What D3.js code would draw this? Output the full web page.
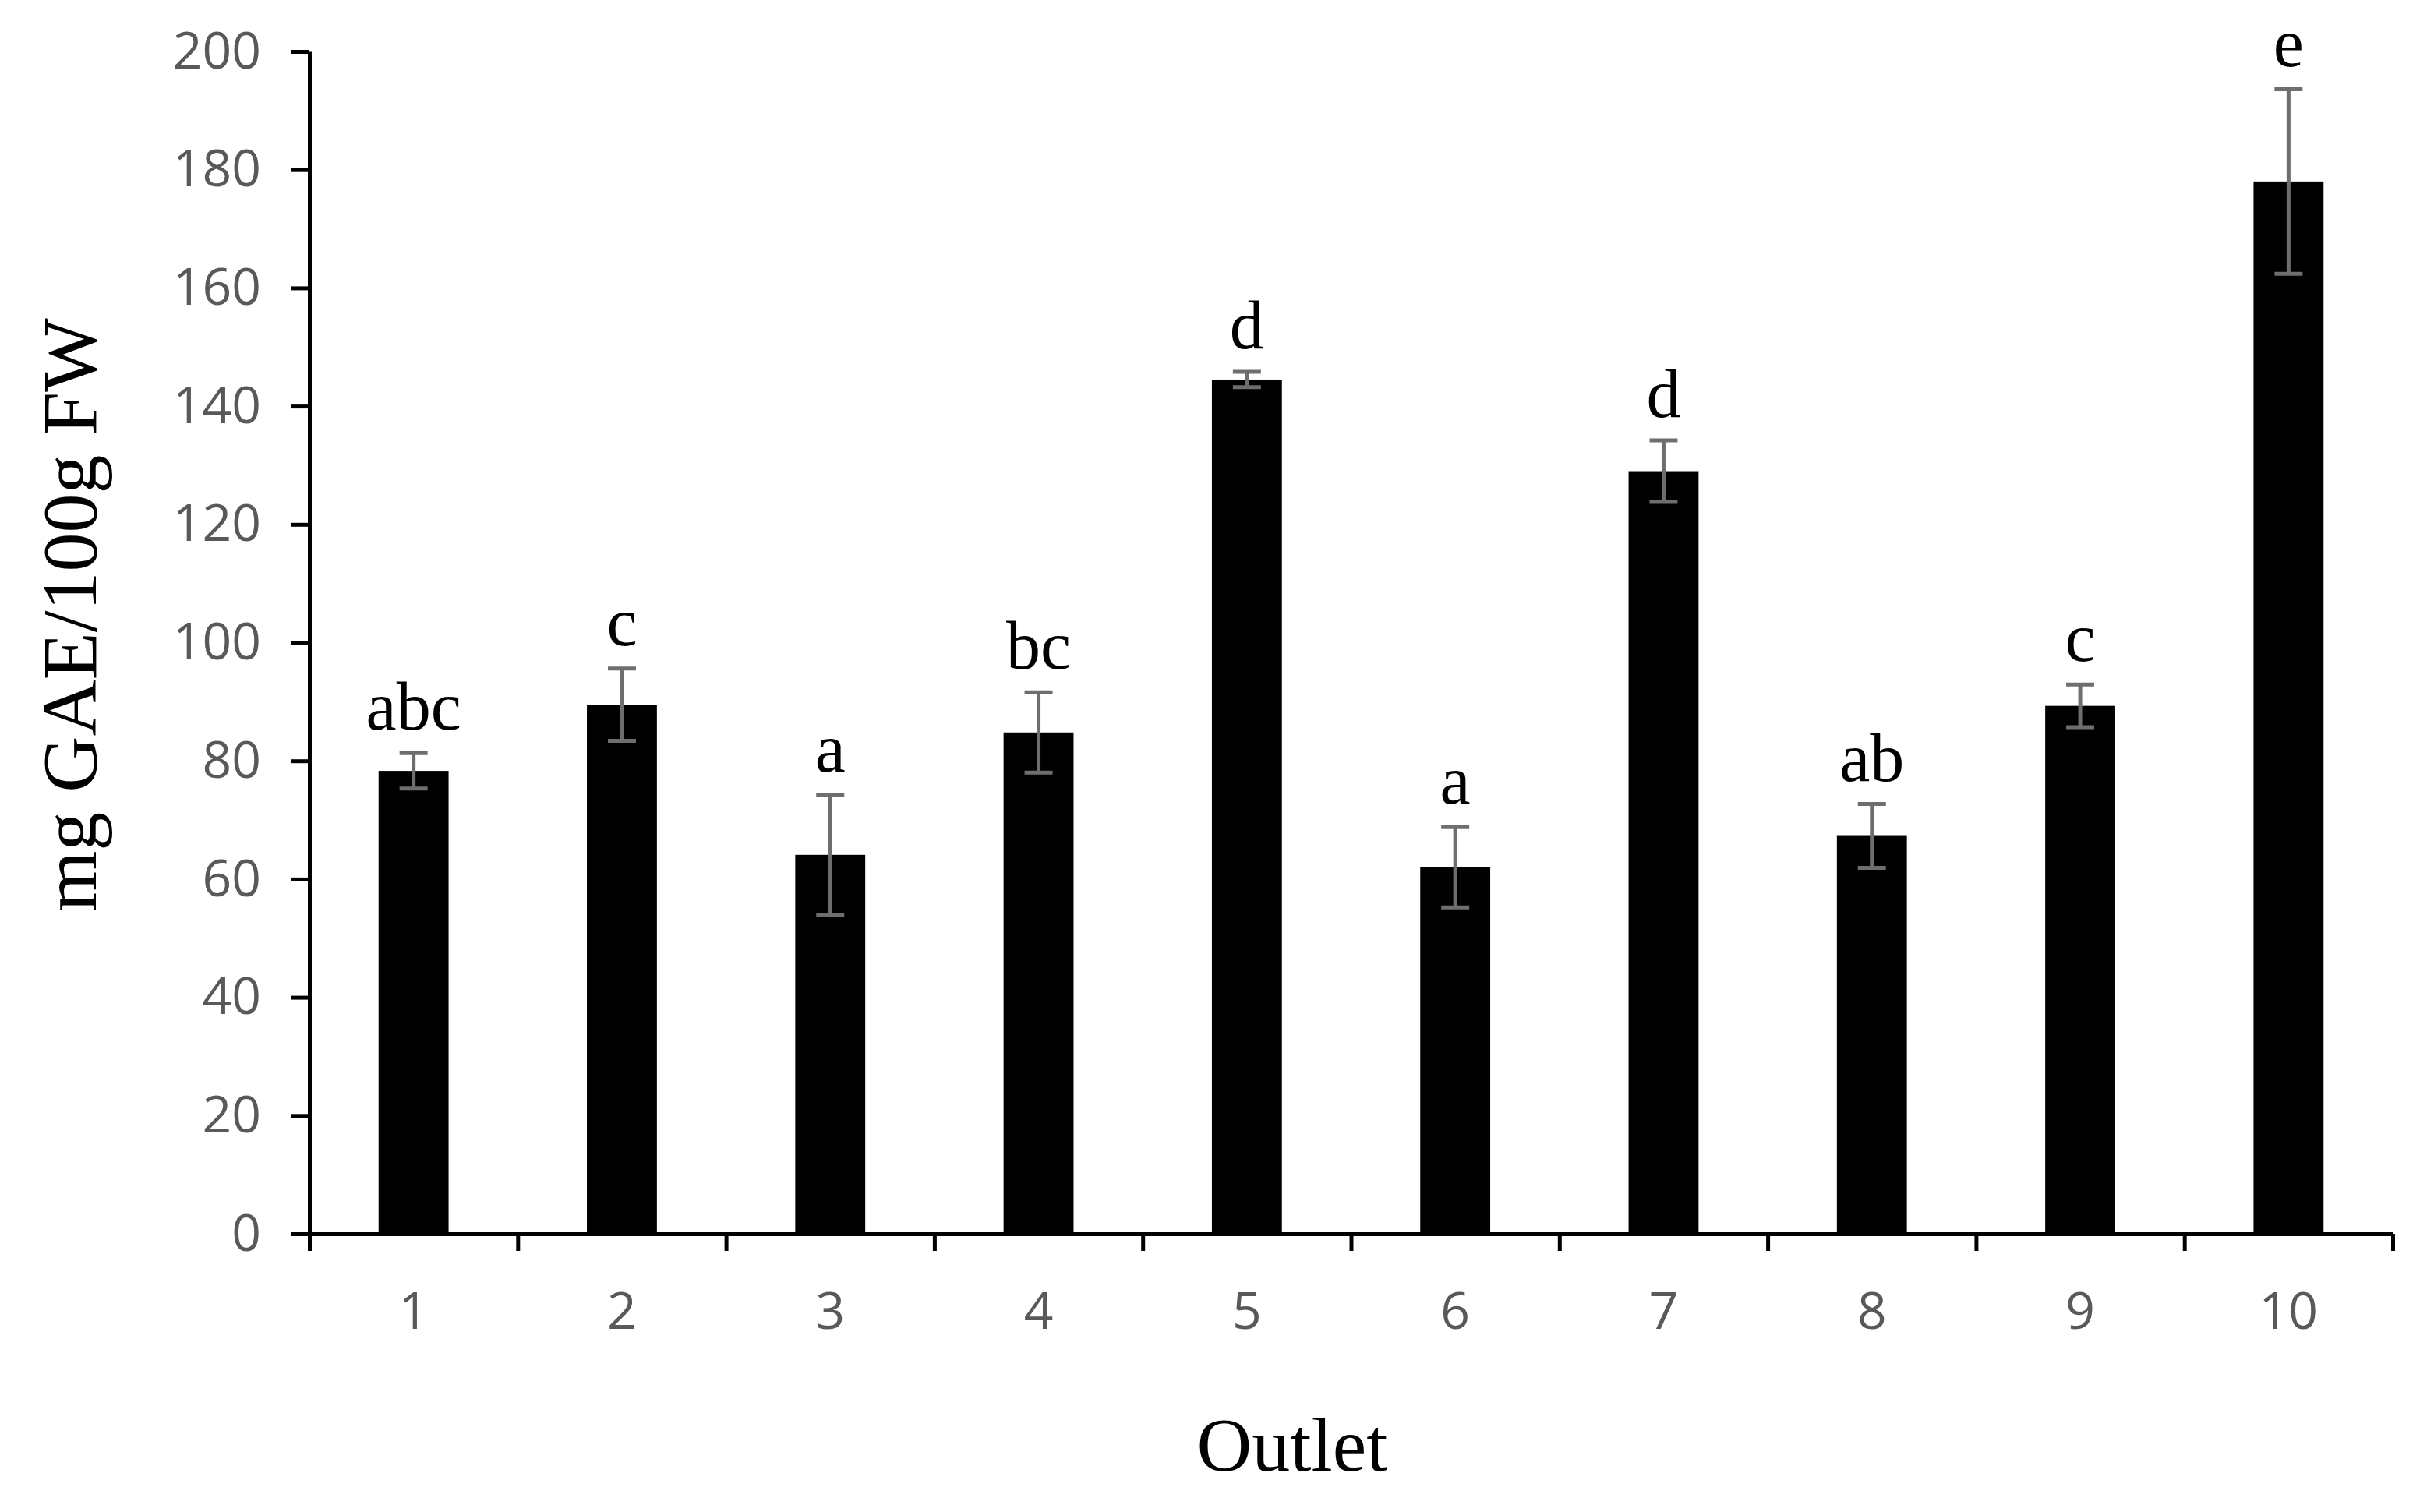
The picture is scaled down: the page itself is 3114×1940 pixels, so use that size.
<!DOCTYPE html>
<html>
<head>
<meta charset="utf-8">
<script src="https://cdn.jsdelivr.net/npm/d3@7"></script>
<style>
body { margin:0; background:#fff; }
</style>
</head>
<body>
<svg></svg>
<script>
var screen = {width:3114,height:1940}
var margins = {top:66,right:44,bottom:357,left:397}

// data
var outlets = ["1","2","3","4","5","6","7","8","9","10"]
var means = [78.3,89.5,64.1,84.8,144.5,62.0,129.0,67.3,89.3,178.0]
var errors = [3.0,6.1,10.1,6.8,1.3,6.8,5.2,5.4,3.6,15.6]
var letters = ["abc","c","a","bc","d","a","d","ab","c","e"]
var yTicks = [0,20,40,60,80,100,120,140,160,180,200]

var width = screen.width - margins.left - margins.right
var height = screen.height - margins.top - margins.bottom

var svg = d3.select("svg")
    .attr("width",screen.width)
    .attr("height",screen.height)

var graph = svg.append("g")
    .attr("transform","translate("+margins.left+","+margins.top+")")

var xScale = d3.scaleBand()
    .domain(outlets)
    .range([0,width])
    .paddingInner(0.664)
    .paddingOuter(0.332)

// edges of the categories, for the tick marks
var xEdge = d3.scaleLinear()
    .domain([0,outlets.length])
    .range([0,width])

var yScale = d3.scaleLinear()
    .domain([0,200])
    .range([height,0])

//bars
graph.selectAll(".bar")
    .data(means)
    .enter()
    .append("rect")
    .attr("class","bar")
    .attr("x",function(d,i){return xScale(outlets[i])})
    .attr("y",function(d){return yScale(d)})
    .attr("width",xScale.bandwidth())
    .attr("height",function(d){return height - yScale(d)})
    .attr("fill","#000")

//error bars
var err = graph.selectAll(".err")
    .data(means)
    .enter()
    .append("g")
    .attr("class","err")
    .attr("transform",function(d,i){return "translate("+(xScale(outlets[i])+xScale.bandwidth()/2)+",0)"})
    .attr("stroke","#6e6e6e")
    .attr("stroke-width",5)

err.append("line")
    .attr("y1",function(d,i){return yScale(d+errors[i])})
    .attr("y2",function(d,i){return yScale(d-errors[i])})
err.append("line")
    .attr("x1",-18).attr("x2",18)
    .attr("y1",function(d,i){return yScale(d+errors[i])})
    .attr("y2",function(d,i){return yScale(d+errors[i])})
err.append("line")
    .attr("x1",-18).attr("x2",18)
    .attr("y1",function(d,i){return yScale(d-errors[i])})
    .attr("y2",function(d,i){return yScale(d-errors[i])})

//significance letters
graph.selectAll(".letter")
    .data(letters)
    .enter()
    .append("text")
    .attr("class","letter")
    .attr("x",function(d,i){return xScale(outlets[i])+xScale.bandwidth()/2})
    .attr("y",function(d,i){return yScale(means[i]+errors[i])-30})
    .attr("text-anchor","middle")
    .attr("font-family","'Liberation Serif', serif")
    .attr("font-size",88)
    .attr("fill","#000")
    .text(function(d){return d})

//axes
var yAxis = d3.axisLeft(yScale)
    .tickValues(yTicks)
    .tickSize(24)
    .tickSizeOuter(0)
    .tickPadding(38)

var yG = graph.append("g")
    .attr("id","yAxis")
    .call(yAxis)

var xAxis = d3.axisBottom(xEdge)
    .tickValues(d3.range(outlets.length+1))
    .tickSize(22)
    .tickSizeOuter(0)
    .tickFormat("")

var xG = graph.append("g")
    .attr("id","xAxis")
    .attr("transform","translate(0,"+height+")")
    .call(xAxis)

var xLab = d3.axisBottom(xScale)
    .tickSize(0)
    .tickPadding(75)

var xL = graph.append("g")
    .attr("transform","translate(0,"+height+")")
    .call(xLab)
xL.select(".domain").remove()

graph.selectAll(".domain, .tick line")
    .attr("stroke","#000")
    .attr("stroke-width",5)

graph.selectAll(".tick text")
    .attr("font-family","'Open Sans', sans-serif")
    .attr("font-size",66)
    .attr("fill","#595959")

//axis titles
svg.append("text")
    .attr("transform","translate(123,789) rotate(-90)")
    .attr("text-anchor","middle")
    .attr("font-family","'Liberation Serif', serif")
    .attr("font-size",100)
    .attr("fill","#000")
    .text("mg GAE/100g FW")

svg.append("text")
    .attr("x",1658)
    .attr("y",1887)
    .attr("text-anchor","middle")
    .attr("font-family","'Liberation Serif', serif")
    .attr("font-size",98)
    .attr("fill","#000")
    .text("Outlet")
</script>
</body>
</html>
